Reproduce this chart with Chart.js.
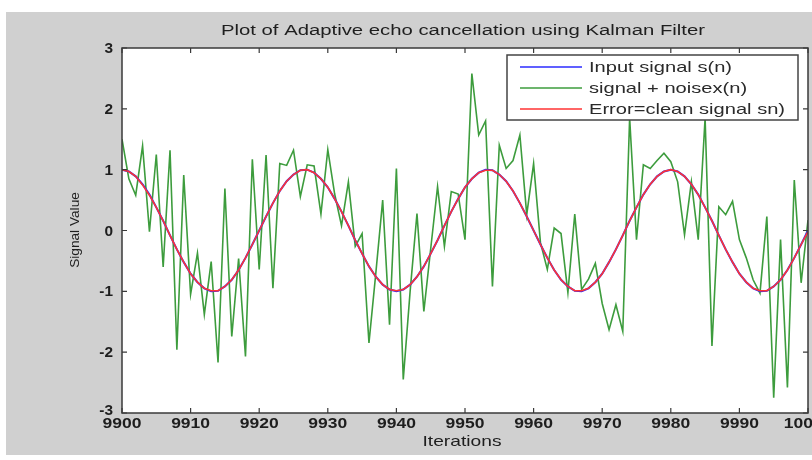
<!DOCTYPE html>
<html>
<head>
<meta charset="utf-8">
<script src="https://cdn.jsdelivr.net/npm/chart.js@4"></script>
<style>
html,body{margin:0;padding:0;background:#fff;}
#wrap{width:812px;height:460px;}
</style>
</head>
<body>
<div id="wrap"><canvas id="echoChart" width="812" height="460"></canvas></div>
<script>
// iterations 9900..10000, one sample per iteration
const firstIter = 9900;
const iterations = Array.from({length:101},(_,i)=>firstIter+i);

// Input signal s(n)
const inputSignal = [
1.00,0.97,0.89,0.76,0.59,0.38,0.16,-0.08,-0.31,-0.52,
-0.71,-0.85,-0.95,-1.00,-0.99,-0.92,-0.81,-0.65,-0.45,-0.23,
0.00,0.23,0.45,0.65,0.81,0.92,0.99,1.00,0.95,0.85,
0.71,0.52,0.31,0.08,-0.16,-0.38,-0.59,-0.76,-0.89,-0.97,
-1.00,-0.97,-0.89,-0.76,-0.59,-0.38,-0.16,0.08,0.31,0.52,
0.71,0.85,0.95,1.00,0.99,0.92,0.81,0.65,0.45,0.23,
0.00,-0.23,-0.45,-0.65,-0.81,-0.92,-0.99,-1.00,-0.95,-0.85,
-0.71,-0.52,-0.31,-0.08,0.16,0.38,0.59,0.76,0.89,0.97,
1.00,0.97,0.89,0.76,0.59,0.38,0.16,-0.08,-0.31,-0.52,
-0.71,-0.85,-0.95,-1.00,-0.99,-0.92,-0.81,-0.65,-0.45,-0.23,
0.00
];

// signal + noise
const noisySignal = [
1.50,0.85,0.58,1.39,-0.02,1.25,-0.60,1.32,-1.96,0.91,
-1.05,-0.37,-1.38,-0.51,-2.17,0.69,-1.74,-0.46,-2.07,1.17,
-0.64,1.24,-0.95,1.10,1.07,1.32,0.56,1.08,1.06,0.27,
1.33,0.60,0.08,0.80,-0.26,-0.05,-1.85,-0.70,0.50,-1.55,
1.02,-2.45,-1.00,0.28,-1.33,-0.30,0.72,-0.26,0.64,0.60,
-0.15,2.58,1.57,1.80,-0.92,1.40,1.02,1.15,1.57,0.26,
1.10,-0.20,-0.64,0.04,-0.05,-1.02,0.27,-0.97,-0.80,-0.54,
-1.20,-1.63,-1.22,-1.66,1.85,-0.15,1.08,1.02,1.15,1.27,
1.13,0.80,-0.07,0.80,-0.15,1.85,-1.90,0.39,0.26,0.48,
-0.15,-0.45,-0.81,-1.03,0.23,-2.75,-0.15,-2.58,0.83,-0.86,
0.17
];

// Error = clean signal
const cleanSignal = [
1.00,0.97,0.89,0.75,0.58,0.38,0.16,-0.08,-0.31,-0.52,
-0.71,-0.85,-0.95,-0.99,-0.99,-0.92,-0.81,-0.65,-0.45,-0.23,
0.00,0.23,0.45,0.65,0.81,0.92,0.99,1.00,0.95,0.85,
0.71,0.52,0.31,0.08,-0.16,-0.38,-0.59,-0.76,-0.89,-0.97,
-0.99,-0.97,-0.89,-0.76,-0.59,-0.38,-0.16,0.08,0.31,0.52,
0.71,0.85,0.95,0.99,0.99,0.92,0.81,0.65,0.45,0.23,
0.00,-0.23,-0.45,-0.65,-0.81,-0.92,-0.99,-0.99,-0.95,-0.85,
-0.71,-0.52,-0.31,-0.08,0.16,0.38,0.59,0.76,0.89,0.97,
1.00,0.97,0.89,0.76,0.59,0.38,0.16,-0.08,-0.31,-0.52,
-0.71,-0.85,-0.95,-0.99,-0.99,-0.92,-0.81,-0.65,-0.45,-0.23,
-0.02
];

const xTicks = [9900,9910,9920,9930,9940,9950,9960,9970,9980,9990,10000];
const yTicks = [3,2,1,0,-1,-2,-3];

const titleText = "Plot of Adaptive echo cancellation using Kalman Filter";
const xLabel = "Iterations";
const yLabel = "Signal Value";

function pts(vals){
return iterations.map((x,i)=>({x:x,y:vals[i]}));
}

// draw text stretched sideways like the blurry matlab export
function wideText(ctx,txt,x,y,align,sx){
ctx.save();
ctx.translate(x,y);
ctx.scale(sx,1);
ctx.textAlign=align;
ctx.fillText(txt,0,0);
ctx.restore();
}

const matlabLook = {
id:"matlabLook",
beforeDraw(chart){
const ctx=chart.ctx, a=chart.chartArea;
ctx.save();
ctx.fillStyle="#ffffff";
ctx.fillRect(0,0,chart.width,chart.height);
ctx.fillStyle="#d0d0d0";
ctx.fillRect(6,12,chart.width-6,443);
ctx.fillStyle="#ffffff";
ctx.fillRect(a.left,a.top,a.right-a.left,a.bottom-a.top);
ctx.restore();
},
afterDraw(chart){
const ctx=chart.ctx, a=chart.chartArea;
const xs=chart.scales.x, ys=chart.scales.y;
ctx.save();
// box
ctx.strokeStyle="#3a3a3a";
ctx.lineWidth=1.5;
ctx.strokeRect(a.left,a.top,a.right-a.left,a.bottom-a.top);
// inward ticks
ctx.lineWidth=1.2;
ctx.beginPath();
xTicks.forEach(v=>{
const px=xs.getPixelForValue(v);
ctx.moveTo(px,a.bottom);ctx.lineTo(px,a.bottom-5);
ctx.moveTo(px,a.top);ctx.lineTo(px,a.top+5);
});
yTicks.forEach(v=>{
const py=ys.getPixelForValue(v);
ctx.moveTo(a.left,py);ctx.lineTo(a.left+5,py);
ctx.moveTo(a.right,py);ctx.lineTo(a.right-5,py);
});
ctx.stroke();
// tick labels
ctx.fillStyle="#1e1e1e";
ctx.font='bold 14px "Liberation Sans", Arial, sans-serif';
ctx.textBaseline="alphabetic";
xTicks.forEach(v=>{
wideText(ctx,String(v),xs.getPixelForValue(v),a.bottom+15,"center",1.25);
});
yTicks.forEach(v=>{
let py=ys.getPixelForValue(v)+5;
if(v===-3) py-=3;
wideText(ctx,String(v),a.left-9,py,"right",1.1);
});
// titles
ctx.font='14px "Liberation Sans", Arial, sans-serif';
wideText(ctx,titleText,(a.left+a.right)/2-2,35,"center",1.45);
ctx.font='15px "Liberation Sans", Arial, sans-serif';
wideText(ctx,xLabel,(a.left+a.right)/2-3,446,"center",1.28);
ctx.save();
ctx.translate(79,230);
ctx.rotate(-Math.PI/2);
ctx.font='13px "Liberation Sans", Arial, sans-serif';
wideText(ctx,yLabel,0,0,"center",1.05);
ctx.restore();
// legend in the upper right corner
const lx=507, ly=55, lw=291, lh=65;
ctx.fillStyle="#ffffff";
ctx.fillRect(lx,ly,lw,lh);
ctx.strokeStyle="#444444";
ctx.lineWidth=1.5;
ctx.strokeRect(lx,ly,lw,lh);
const rows=[chart.data.datasets[0],chart.data.datasets[1],chart.data.datasets[2]];
ctx.font='15px "Liberation Sans", Arial, sans-serif';
rows.forEach((ds,i)=>{
const ry=ly+12+i*21;
ctx.strokeStyle=ds.borderColor;
ctx.lineWidth=1.5;
ctx.beginPath();ctx.moveTo(520,ry);ctx.lineTo(582,ry);ctx.stroke();
ctx.fillStyle="#2a2a2a";
wideText(ctx,ds.label,589,ry+5,"left",1.34);
});
ctx.restore();
}
};

const echoChart = new Chart(
document.getElementById("echoChart"),
{
type:"line",
data:{
datasets:[
{label:"Input signal s(n)",data:pts(inputSignal),borderColor:"#2b2bff",borderWidth:2,pointRadius:0,tension:0,order:1},
{label:"signal + noisex(n)",data:pts(noisySignal),borderColor:"#3d9c3d",borderWidth:1.6,pointRadius:0,tension:0,order:2},
{label:"Error=clean signal sn)",data:pts(cleanSignal),borderColor:"#ff3333",borderWidth:1.6,pointRadius:0,tension:0,order:0}
]
},
options:{
responsive:false,
devicePixelRatio:1,
animation:false,
layout:{padding:{top:48,right:4,left:0,bottom:0}},
plugins:{legend:{display:false},tooltip:{enabled:false},title:{display:false}},
scales:{
x:{type:"linear",min:9900,max:10000,
grid:{display:false},border:{display:false},
ticks:{display:false,stepSize:10},
afterFit(s){s.height=47;}},
y:{min:-3,max:3,
grid:{display:false},border:{display:false},
ticks:{display:false,stepSize:1},
afterFit(s){s.width=122;}}
}
},
plugins:[matlabLook]
});
</script>
</body>
</html>
